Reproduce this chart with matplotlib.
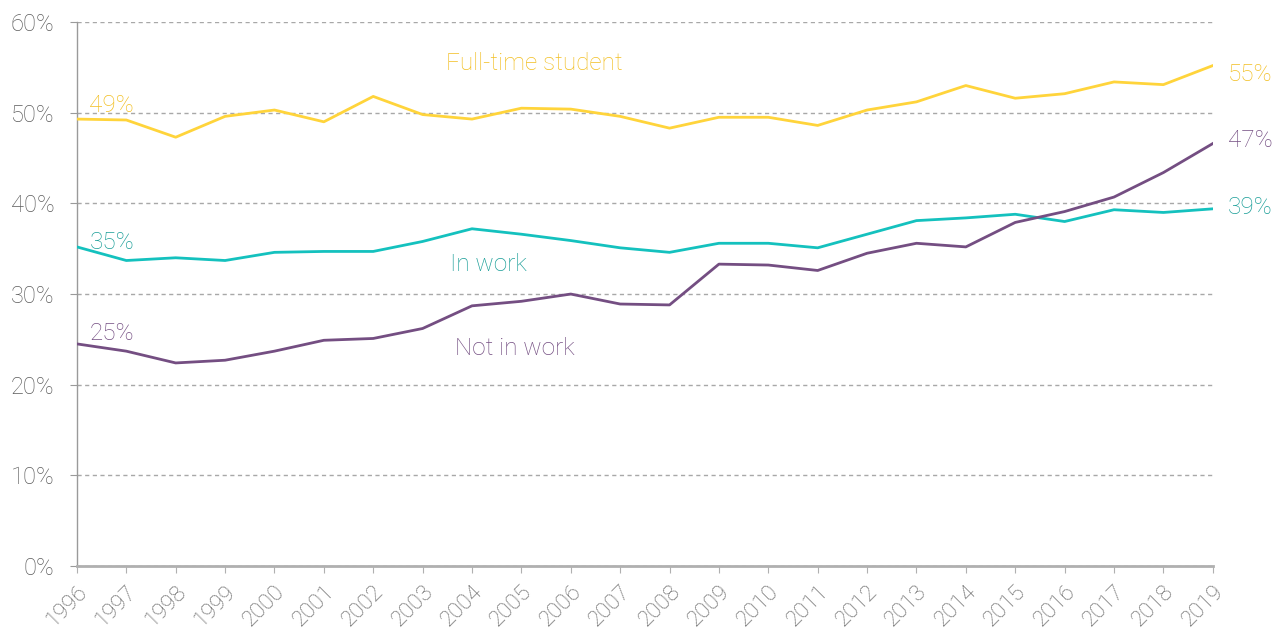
import numpy as np
import matplotlib
matplotlib.use('Agg')
import matplotlib.pyplot as plt

years = list(range(1996, 2020))

# share (%) by status
full_time_student = [49.3, 49.2, 47.3, 49.6, 50.3, 49.0, 51.8, 49.8, 49.3, 50.5, 50.4, 49.6,
                     48.3, 49.5, 49.5, 48.6, 50.3, 51.2, 53.0, 51.6, 52.1, 53.4, 53.1, 55.2]
in_work = [35.2, 33.7, 34.0, 33.7, 34.6, 34.7, 34.7, 35.8, 37.2, 36.6, 35.9, 35.1,
           34.6, 35.6, 35.6, 35.1, 36.6, 38.1, 38.4, 38.8, 38.0, 39.3, 39.0, 39.4]
not_in_work = [24.5, 23.7, 22.4, 22.7, 23.7, 24.9, 25.1, 26.2, 28.7, 29.2, 30.0, 28.9,
               28.8, 33.3, 33.2, 32.6, 34.5, 35.6, 35.2, 37.9, 39.1, 40.7, 43.4, 46.6]

y_ticks = [0, 10, 20, 30, 40, 50, 60]

c_yellow = '#FFD43B'
c_teal = '#14C1BE'
c_purple = '#744E82'
lab_yellow = '#F2BF22'
lab_teal = '#1A9E98'
lab_purple = '#744E82'
grey = '#5C5C5C'

plt.rcParams['font.family'] = ['Roboto', 'DejaVu Sans']
plt.rcParams['font.weight'] = 'light'

fig = plt.figure(figsize=(12.82, 6.31), dpi=100)
ax = fig.add_axes([0.060, 0.103, 0.886, 0.862])

ax.plot(years, full_time_student, color=c_yellow, lw=2, zorder=3)
ax.plot(years, in_work, color=c_teal, lw=2, zorder=3)
ax.plot(years, not_in_work, color=c_purple, lw=2, zorder=3)

ax.set_xlim(years[0], years[-1])
ax.set_ylim(0, 60)
ax.set_yticks(y_ticks)
ax.set_yticklabels([f'{v}%' for v in y_ticks])
ax.set_xticks(years)
ax.set_xticklabels([str(y) for y in years], rotation=45, ha='right',
                   rotation_mode='anchor')

ax.grid(axis='y', color='#A8A8A8', lw=1, ls=(0, (3, 2.5)))
ax.set_axisbelow(True)
for s in ['top', 'right']:
    ax.spines[s].set_visible(False)
ax.spines['left'].set_color('#9A9A9A')
ax.spines['left'].set_linewidth(1)
ax.spines['bottom'].set_color('#B0B0B0')
ax.spines['bottom'].set_linewidth(2)
ax.tick_params(axis='y', length=5, color='#9A9A9A', labelsize=17, labelcolor=grey, pad=11)
ax.tick_params(axis='x', length=5, color='#B0B0B0', labelsize=16, labelcolor=grey, pad=6)

# start / end value labels
ax.text(1996.25, full_time_student[0] + 0.2, '49%', color=lab_yellow, fontsize=17.5,
        ha='left', va='bottom')
ax.text(1996.25, in_work[0] - 0.8, '35%', color=lab_teal, fontsize=17.5,
        ha='left', va='bottom')
ax.text(1996.25, not_in_work[0] - 0.1, '25%', color=lab_purple, fontsize=17.5,
        ha='left', va='bottom')
ax.text(2019.3, full_time_student[-1] - 1.0, '55%', color=lab_yellow, fontsize=17.5,
        ha='left', va='center', clip_on=False)
ax.text(2019.3, not_in_work[-1] + 0.3, '47%', color=lab_purple, fontsize=17.5,
        ha='left', va='center', clip_on=False)
ax.text(2019.3, in_work[-1] + 0.2, '39%', color=lab_teal, fontsize=17.5,
        ha='left', va='center', clip_on=False)

# series names
ax.text(2005.27, 55.4, 'Full-time student', color=lab_yellow, fontsize=17.5,
        ha='center', va='center')
ax.text(2004.34, 33.3, 'In work', color=lab_teal, fontsize=17.5,
        ha='center', va='center')
ax.text(2004.87, 24.0, 'Not in work', color=lab_purple, fontsize=17.5,
        ha='center', va='center')

fig.savefig('out.png', dpi=100)
